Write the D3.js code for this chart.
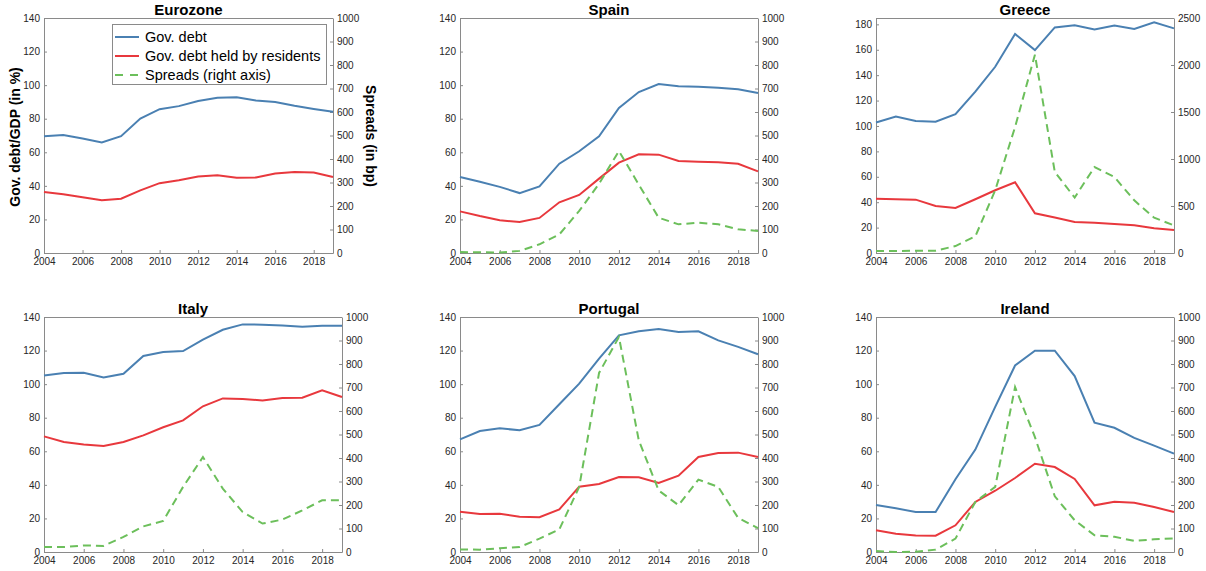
<!DOCTYPE html>
<html>
<head>
<meta charset="utf-8">
<script src="https://cdn.jsdelivr.net/npm/d3@7"></script>
<style>
  body { margin: 0; background: #fff; }
  text { font-family: "Liberation Sans", Arial, sans-serif; }
</style>
</head>
<body>
<div id="chart"></div>
<script>
// Data
const years = d3.range(2004, 2020);
const countries = ["Eurozone", "Spain", "Greece", "Italy", "Portugal", "Ireland"];

const debtEurozone = [69.5, 70.3, 68.2, 65.9, 69.6, 80.1, 85.7, 87.5, 90.6, 92.5, 92.8, 90.8, 90.0, 87.7, 85.8, 84.1];
const residentsEurozone = [36.3, 35.0, 33.2, 31.4, 32.3, 37.3, 41.6, 43.4, 45.6, 46.3, 44.8, 45.0, 47.4, 48.2, 48.0, 45.3];

const debtSpain = [45.3, 42.5, 39.4, 35.7, 39.7, 53.2, 60.6, 69.5, 86.4, 95.9, 100.7, 99.3, 99.1, 98.5, 97.5, 95.3];
const residentsSpain = [24.8, 22.0, 19.5, 18.5, 20.9, 30.2, 34.6, 44.3, 53.8, 58.8, 58.6, 54.8, 54.4, 54.0, 53.2, 48.6];
const spreadsSpain = [4, 3, 2, 9, 37, 79, 179, 295, 434, 291, 150, 122, 129, 122, 101, 94];

const debtGreece = [102.7, 107.5, 104.0, 103.3, 109.3, 127.0, 146.6, 172.4, 159.7, 177.6, 179.2, 176.0, 179.0, 176.3, 181.6, 176.8];
const residentsGreece = [42.8, 42.3, 42.0, 37.0, 35.5, 42.3, 49.4, 55.7, 31.3, 27.9, 24.4, 23.9, 22.9, 21.8, 19.4, 18.1];
const spreadsGreece = [21, 21, 25, 25, 74, 177, 667, 1340, 2110, 862, 589, 915, 808, 560, 376, 294];

const debtItaly = [105.2, 106.6, 106.8, 103.9, 106.2, 116.8, 119.1, 119.7, 126.5, 132.4, 135.6, 135.4, 135.0, 134.2, 134.8, 134.8];
const residentsItaly = [68.9, 65.5, 64.1, 63.1, 65.5, 69.5, 74.3, 78.4, 86.8, 91.5, 91.1, 90.3, 91.7, 91.9, 96.3, 92.3];
const spreadsItaly = [21, 21, 28, 26, 64, 109, 132, 277, 404, 270, 170, 121, 138, 177, 220, 220];

const debtPortugal = [67.1, 72.1, 73.7, 72.5, 75.7, 88.0, 100.3, 115.2, 129.1, 131.5, 132.8, 131.0, 131.5, 126.1, 122.2, 117.8];
const residentsPortugal = [24.0, 22.6, 22.8, 21.0, 20.7, 25.4, 38.9, 40.5, 44.7, 44.5, 41.1, 45.5, 56.6, 59.0, 59.2, 56.6];
const spreadsPortugal = [11, 10, 16, 21, 57, 96, 277, 762, 915, 475, 262, 199, 308, 277, 145, 102];

const debtIreland = [28.0, 26.0, 23.8, 23.8, 43.3, 61.0, 86.5, 111.1, 119.9, 119.9, 104.8, 77.0, 74.0, 68.0, 63.4, 58.6];
const residentsIreland = [12.9, 10.9, 9.9, 9.7, 15.9, 29.8, 36.5, 44.1, 52.6, 50.6, 43.5, 27.8, 30.0, 29.4, 26.8, 23.8];
const spreadsIreland = [4, 0, 1, 10, 57, 213, 277, 702, 489, 237, 135, 71, 65, 47, 54, 58];

const xTicks = [2004, 2006, 2008, 2010, 2012, 2014, 2016, 2018];
const leftTicks = [0, 20, 40, 60, 80, 100, 120, 140];
const leftTicksGreece = [0, 20, 40, 60, 80, 100, 120, 140, 160, 180];
const rightTicks = [0, 100, 200, 300, 400, 500, 600, 700, 800, 900, 1000];
const rightTicksGreece = [0, 500, 1000, 1500, 2000, 2500];

const legendLabels = ["Gov. debt", "Gov. debt held by residents", "Spreads (right axis)"];

const series = {
  Eurozone: [debtEurozone, residentsEurozone, null],
  Spain: [debtSpain, residentsSpain, spreadsSpain],
  Greece: [debtGreece, residentsGreece, spreadsGreece],
  Italy: [debtItaly, residentsItaly, spreadsItaly],
  Portugal: [debtPortugal, residentsPortugal, spreadsPortugal],
  Ireland: [debtIreland, residentsIreland, spreadsIreland]
};

// Layout of each panel box
const panels = [
  { name: "Eurozone", x0: 44, x1: 333, y0: 18, y1: 253, left: [0, 140], lt: leftTicks, right: [0, 1000], rt: rightTicks },
  { name: "Spain", x0: 460, x1: 758, y0: 18, y1: 253, left: [0, 140], lt: leftTicks, right: [0, 1000], rt: rightTicks },
  { name: "Greece", x0: 876, x1: 1174, y0: 18, y1: 253, left: [0, 185], lt: leftTicksGreece, right: [0, 2500], rt: rightTicksGreece },
  { name: "Italy", x0: 44, x1: 342, y0: 317, y1: 552, left: [0, 140], lt: leftTicks, right: [0, 1000], rt: rightTicks },
  { name: "Portugal", x0: 460, x1: 758, y0: 317, y1: 552, left: [0, 140], lt: leftTicks, right: [0, 1000], rt: rightTicks },
  { name: "Ireland", x0: 876, x1: 1174, y0: 317, y1: 552, left: [0, 140], lt: leftTicks, right: [0, 1000], rt: rightTicks }
];

const colors = ["#4a80b2", "#e8383d", "#6cbf5b"];
const axisColor = "#8a8a8a";
const labelColor = "#262626";

const svg = d3.select("#chart")
  .append("svg")
  .attr("width", 1206)
  .attr("height", 571);

panels.forEach(p => {
  const g = svg.append("g");
  const x = d3.scaleLinear().domain([2004, 2019]).range([p.x0, p.x1]);
  const yL = d3.scaleLinear().domain(p.left).range([p.y1, p.y0]);
  const yR = d3.scaleLinear().domain(p.right).range([p.y1, p.y0]);

  // Axes
  const styleAxis = sel => {
    sel.select(".domain").attr("stroke", axisColor);
    sel.selectAll(".tick line").attr("stroke", axisColor);
    sel.selectAll(".tick text")
      .attr("fill", labelColor)
      .style("font-size", "10px")
      .style("font-family", "'Liberation Sans', Arial, sans-serif");
  };

  g.append("g")
    .attr("transform", `translate(0,${p.y1})`)
    .call(d3.axisBottom(x).tickValues(xTicks).tickFormat(d3.format("d")).tickSizeInner(-3).tickSizeOuter(0).tickPadding(5))
    .call(styleAxis);

  g.append("g")
    .attr("transform", `translate(${p.x0},0)`)
    .call(d3.axisLeft(yL).tickValues(p.lt).tickFormat(d3.format("d")).tickSizeInner(-3).tickSizeOuter(0).tickPadding(4))
    .call(styleAxis);

  g.append("g")
    .attr("transform", `translate(${p.x1},0)`)
    .call(d3.axisRight(yR).tickValues(p.rt).tickFormat(d3.format("d")).tickSizeInner(-3).tickSizeOuter(0).tickPadding(4))
    .call(styleAxis);

  // top edge of box
  g.append("line")
    .attr("x1", p.x0).attr("x2", p.x1)
    .attr("y1", p.y0 + 0.5).attr("y2", p.y0 + 0.5)
    .attr("stroke", axisColor);

  // Lines
  const [debt, res, spr] = series[p.name];
  const lineL = d3.line().x((d, i) => x(years[i])).y(d => yL(d));
  const lineR = d3.line().x((d, i) => x(years[i])).y(d => yR(d));

  g.append("path").datum(debt).attr("d", lineL)
    .attr("fill", "none").attr("stroke", colors[0]).attr("stroke-width", 2);
  g.append("path").datum(res).attr("d", lineL)
    .attr("fill", "none").attr("stroke", colors[1]).attr("stroke-width", 2);
  if (spr) {
    g.append("path").datum(spr).attr("d", lineR)
      .attr("fill", "none").attr("stroke", colors[2]).attr("stroke-width", 2)
      .attr("stroke-dasharray", "8,5");
  }

  // Title
  g.append("text")
    .attr("x", (p.x0 + p.x1) / 2)
    .attr("y", p.y0 - 3)
    .attr("text-anchor", "middle")
    .style("font-size", "15px")
    .style("font-weight", "bold")
    .attr("fill", "#000")
    .text(p.name);
});

// Axis labels (Eurozone panel only)
svg.append("text")
  .attr("transform", "translate(20,137) rotate(-90)")
  .attr("text-anchor", "middle")
  .style("font-size", "14px")
  .style("font-weight", "bold")
  .text("Gov. debt/GDP (in %)");

svg.append("text")
  .attr("transform", "translate(366,136) rotate(90)")
  .attr("text-anchor", "middle")
  .style("font-size", "14px")
  .style("font-weight", "bold")
  .text("Spreads (in bp)");

// Legend
const legend = svg.append("g");
legend.append("rect")
  .attr("x", 112.5).attr("y", 24.5)
  .attr("width", 214).attr("height", 60)
  .attr("fill", "#fff")
  .attr("stroke", axisColor);

legendLabels.forEach((lab, i) => {
  const ly = 37 + i * 19;
  legend.append("line")
    .attr("x1", 115).attr("x2", 139)
    .attr("y1", ly).attr("y2", ly)
    .attr("stroke", colors[i])
    .attr("stroke-width", 2)
    .attr("stroke-dasharray", i === 2 ? "8,7" : null);
  legend.append("text")
    .attr("x", 145).attr("y", ly)
    .attr("dy", "0.35em")
    .style("font-size", "14.5px")
    .attr("fill", "#000")
    .text(lab);
});
</script>
</body>
</html>
